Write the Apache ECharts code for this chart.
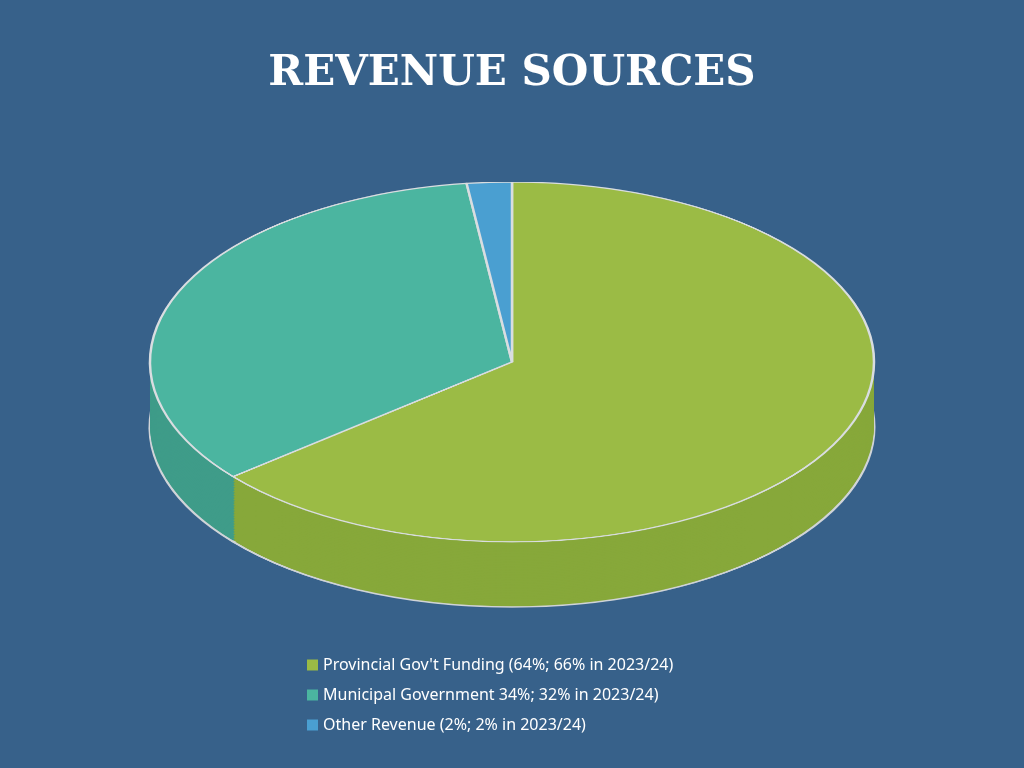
<!DOCTYPE html>
<html><head><meta charset="utf-8">
<script src="https://cdn.jsdelivr.net/npm/echarts@6/dist/echarts.min.js"></script>
<style>
html,body{margin:0;padding:0;background:#37618a;width:1024px;height:768px;overflow:hidden}
#pie{position:absolute;left:0;top:182px;width:1024px;height:880px;transform:scaleY(0.497);transform-origin:0 0}
#ov{position:absolute;left:0;top:0;width:1024px;height:768px}
</style></head><body>
<div id="pie"></div><div id="ov"></div>
<script>
const categories = ["Provincial Gov't Funding (64%; 66% in 2023/24)", "Municipal Government 34%; 32% in 2023/24)", "Other Revenue (2%; 2% in 2023/24)"];
const values = [64, 34, 2];
const topColors = ['#9bbb45', '#4bb5a0', '#4a9fd1'];
const sideColors = ['#87a83a', '#3f9c89', '#3d88b5'];

const pie = echarts.init(document.getElementById('pie'));
const series = [];
const depth = 131, steps = 40;
for (let i = steps; i >= 1; i--) {
  series.push({
    type: 'pie', silent: true, animation: false, startAngle: 90, clockwise: true,
    center: [512, 362 + depth * i / steps], radius: 362, label: {show: false},
    itemStyle: {borderWidth: i === steps ? 3 : 0, borderColor: '#d0d4d8'},
    data: values.map((v, k) => ({name: categories[k], value: v, itemStyle: {color: sideColors[k]}}))
  });
}
series.push({
  type: 'pie', silent: true, animation: false, startAngle: 90, clockwise: true,
  center: [512, 362], radius: 362, label: {show: false},
  itemStyle: {borderWidth: 2.5, borderColor: '#d9dde0'},
  data: values.map((v, k) => ({name: categories[k], value: v, itemStyle: {color: topColors[k]}}))
});
pie.setOption({animation: false, series});

const ov = echarts.init(document.getElementById('ov'));
ov.setOption({
  animation: false,
  color: topColors,
  title: {text: 'REVENUE SOURCES', left: 'center', top: 48,
    textStyle: {color: '#ffffff', fontFamily: 'DejaVu Serif', fontWeight: 'bold', fontSize: 42}},
  legend: {orient: 'vertical', left: 302, top: 652, itemGap: 14, itemWidth: 11, itemHeight: 11,
    icon: 'rect', selectedMode: false,
    textStyle: {color: '#ffffff', fontFamily: 'Noto Sans', fontSize: 16}, data: categories},
  series: [{type: 'pie', radius: [0, 0], label: {show: false}, silent: true,
    data: values.map((v, k) => ({name: categories[k], value: v}))}]
});
</script></body></html>
